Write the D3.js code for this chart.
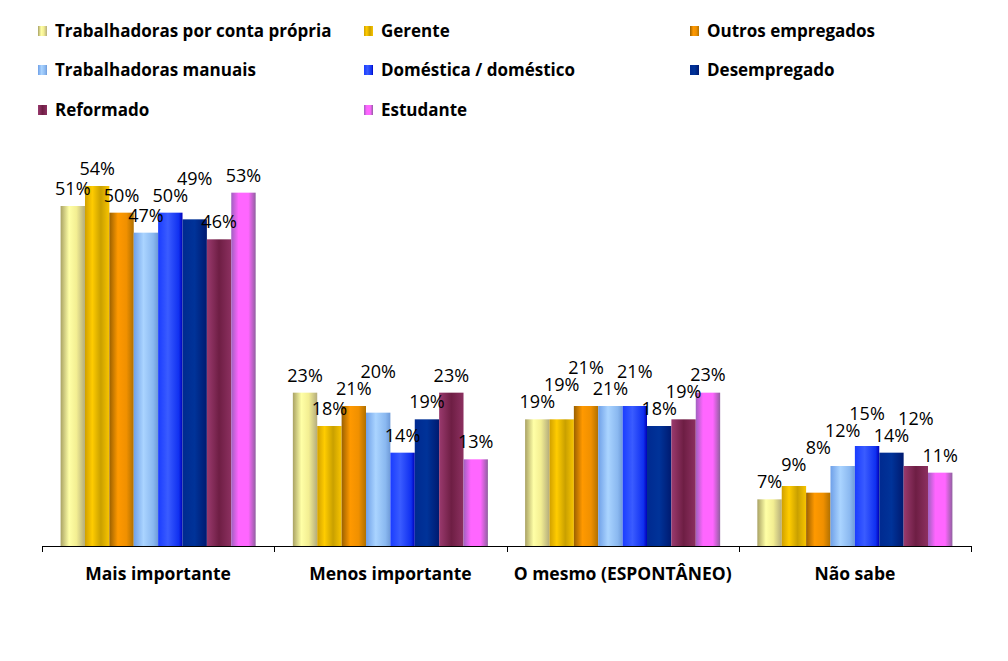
<!DOCTYPE html>
<html><head><meta charset="utf-8">
<script src="https://cdn.jsdelivr.net/npm/d3@7"></script>
<style>html,body{margin:0;padding:0;background:#fff;}svg{display:block;}</style>
</head><body>
<svg id="chart" width="1008" height="661"></svg>
<script>
const categories = ["Mais importante", "Menos importante", "O mesmo (ESPONTÂNEO)", "Não sabe"];
const seriesNames = ["Trabalhadoras por conta própria", "Gerente", "Outros empregados",
  "Trabalhadoras manuais", "Doméstica / doméstico", "Desempregado", "Reformado", "Estudante"];
const trabContaPropria = [51, 23, 19, 7];
const gerente = [54, 18, 19, 9];
const outrosEmpregados = [50, 21, 21, 8];
const trabManuais = [47, 20, 21, 12];
const domestica = [50, 14, 21, 15];
const desempregado = [49, 19, 18, 14];
const reformado = [46, 23, 19, 12];
const estudante = [53, 13, 23, 11];
const seriesValues = [trabContaPropria, gerente, outrosEmpregados, trabManuais, domestica, desempregado, reformado, estudante];

const gradStops = [
  [["0%","#a9a264"],["35%","#ffffa6"],["65%","#f3ee92"],["100%","#b4ac7c"]],
  [["0%","#d0a000"],["30%","#ffcc00"],["65%","#c9a000"],["100%","#f8c400"]],
  [["0%","#9a6000"],["35%","#ff9900"],["70%","#f09000"],["100%","#b07000"]],
  [["0%","#6fa0e8"],["40%","#aad4ff"],["80%","#8ab8f0"],["100%","#6e9ad8"]],
  [["0%","#1a3cff"],["40%","#3a5cff"],["85%","#1030f0"],["100%","#0000b8"]],
  [["0%","#002a90"],["50%","#003399"],["100%","#001a70"]],
  [["0%","#9a3a6e"],["50%","#6e1e44"],["100%","#8c3060"]],
  [["0%","#a060c0"],["30%","#ff66ff"],["70%","#ff66ff"],["100%","#9060a0"]]
];

const svg = d3.select("#chart");
const defs = svg.append("defs");
gradStops.forEach((stops, i) => {
  const g = defs.append("linearGradient").attr("id", "g" + i)
    .attr("x1", "0%").attr("x2", "100%").attr("y1", "0%").attr("y2", "0%");
  stops.forEach(s => g.append("stop").attr("offset", s[0]).attr("stop-color", s[1]));
});

const left = 42, right = 971, baseY = 546, topY = 146;
const x0 = d3.scaleBand().domain(categories).range([left, right]).padding(0);
const inner = 18.6;
const x1 = d3.scaleBand().domain(d3.range(seriesNames.length)).range([inner, x0.bandwidth() - inner]).padding(0);
const y = d3.scaleLinear().domain([0, 60]).range([baseY, topY]);

const font = "'Open Sans', 'Noto Sans', sans-serif";
const boxH = 17, labelGap = 11;

// bars
const groups = svg.append("g").selectAll("g").data(categories).join("g")
  .attr("transform", d => `translate(${x0(d)},0)`);
groups.each(function(cat, ci) {
  const g = d3.select(this);
  seriesValues.forEach((vals, si) => {
    g.append("rect")
      .attr("x", x1(si)).attr("width", x1.bandwidth())
      .attr("y", y(vals[ci])).attr("height", baseY - y(vals[ci]))
      .attr("fill", `url(#g${si})`);
  });
  const placed = [];
  seriesValues.forEach((vals, si) => {
    const cx = x1(si) + x1.bandwidth() / 2;
    const t = g.append("text")
      .attr("x", cx)
      .attr("text-anchor", "middle")
      .attr("font-family", font).attr("font-size", 18)
      .attr("fill", "#000")
      .text(vals[ci] + "%");
    const w = t.node().getComputedTextLength();
    let base = y(vals[ci]) - labelGap;
    let moved = true;
    while (moved) {
      moved = false;
      for (const p of placed) {
        const hOver = Math.abs(p.cx - cx) < (p.w + w) / 2;
        const vOver = base > p.base - boxH && base - boxH < p.base;
        if (hOver && vOver) { base = p.base - boxH; moved = true; }
      }
    }
    t.attr("y", base);
    placed.push({cx, w, base});
  });
});

// axis
const axis = svg.append("g").attr("transform", `translate(0,${baseY})`);
axis.append("line").attr("x1", left).attr("x2", right).attr("y1", 0.5).attr("y2", 0.5)
  .attr("stroke", "#000").attr("stroke-width", 1);
const tickXs = categories.map(c => x0(c)).concat([right]);
axis.selectAll("line.tick").data(tickXs).join("line").attr("class", "tick")
  .attr("x1", d => Math.round(d) + 0.5).attr("x2", d => Math.round(d) + 0.5)
  .attr("y1", 0).attr("y2", 6).attr("stroke", "#000");
axis.selectAll("text").data(categories).join("text")
  .attr("x", d => x0(d) + x0.bandwidth() / 2)
  .attr("y", 34)
  .attr("text-anchor", "middle")
  .attr("font-family", font).attr("font-weight", "bold").attr("font-size", 17.5)
  .text(d => d);

// legend
const legCols = [38, 364, 690];
const legRows = [31, 70, 110];
const leg = svg.append("g");
seriesNames.forEach((name, i) => {
  const cx = legCols[i % 3], cy = legRows[Math.floor(i / 3)];
  leg.append("rect").attr("x", cx).attr("y", cy - 5).attr("width", 9).attr("height", 10)
    .attr("fill", `url(#g${i})`);
  leg.append("text").attr("x", cx + 17).attr("y", cy + 6)
    .attr("font-family", font).attr("font-weight", "bold").attr("font-size", 17)
    .text(name);
});
</script>
</body></html>
